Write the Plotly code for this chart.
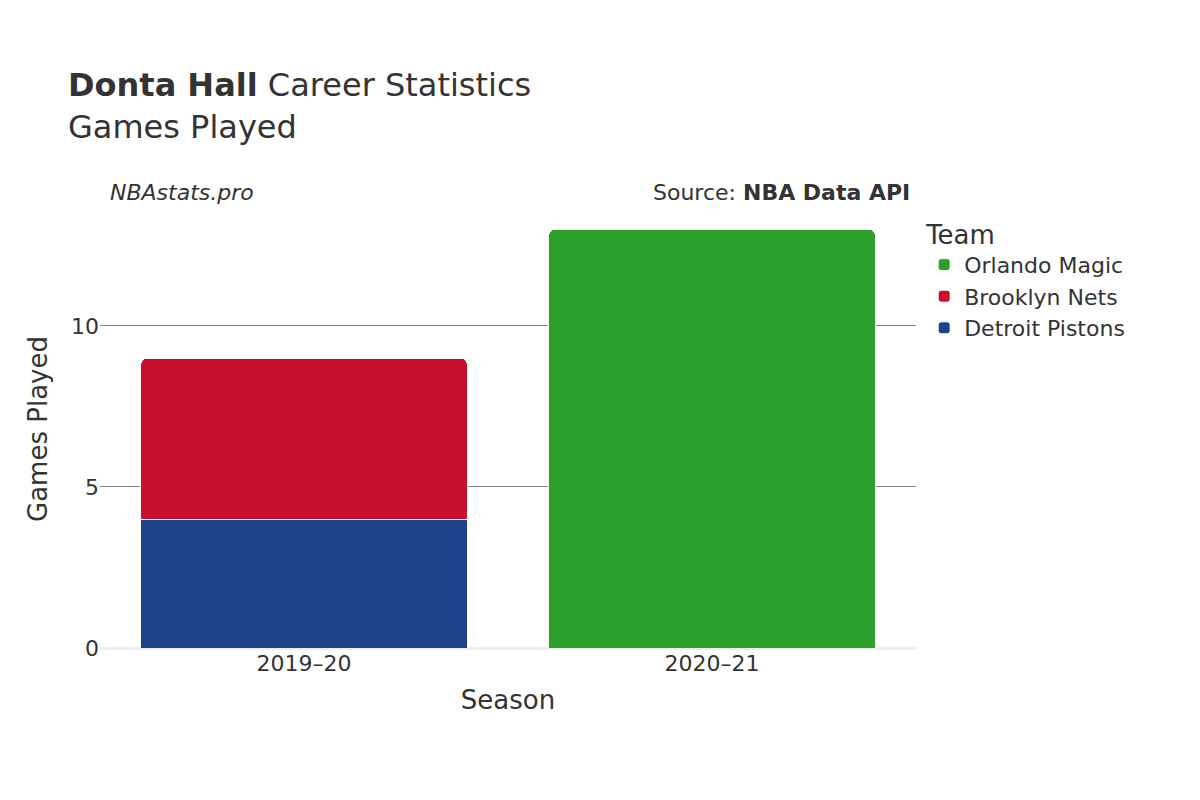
import plotly.graph_objects as go

seasons = ["2019\u201320", "2020\u201321"]
teams = ["Detroit Pistons", "Brooklyn Nets", "Orlando Magic"]
colors = ["#1d428a", "#c8102e", "#2ca02c"]
games = [
    [4, 0],   # Detroit Pistons
    [5, 0],   # Brooklyn Nets
    [0, 13],  # Orlando Magic
]

fig = go.Figure()
for team, color, vals in zip(teams, colors, games):
    fig.add_trace(go.Bar(
        x=seasons, y=[v if v else None for v in vals], name=team,
        marker=dict(color=color, line=dict(color="white", width=1)),
    ))

fig.update_layout(
    barmode="stack", barcornerradius=6, bargap=0.2,
    width=1200, height=800,
    font=dict(family="DejaVu Sans", size=20, color="#333"),
    plot_bgcolor="white", paper_bgcolor="white",
    margin=dict(l=92, r=292, t=202, b=160),
    title=dict(text="<b>Donta Hall</b> Career Statistics<br>Games Played",
               x=0.05, xanchor="left", y=0.89, yanchor="top",
               font=dict(size=32)),
    legend=dict(title=dict(text="Team", font=dict(size=26)),
                x=1.01, y=1.0, yanchor="top", font=dict(size=22)),
    xaxis=dict(title=dict(text="Season", font=dict(size=26)), tickfont=dict(size=22)),
    yaxis=dict(title=dict(text="Games Played", font=dict(size=26)), tickfont=dict(size=22),
               range=[0, 13.6], tickvals=[0, 5, 10], showgrid=True, gridcolor="#888",
               zeroline=True, zerolinecolor="#eee", zerolinewidth=3),
    annotations=[
        dict(text="<i>NBAstats.pro</i>", x=0.01, y=1.04, xref="paper", yref="paper",
             xanchor="left", yanchor="middle", showarrow=False, font=dict(size=22)),
        dict(text="Source: <b>NBA Data API</b>", x=0.995, y=1.04, xref="paper", yref="paper",
             xanchor="right", yanchor="middle", showarrow=False, font=dict(size=22)),
    ],
)

fig.write_html("out.html")
